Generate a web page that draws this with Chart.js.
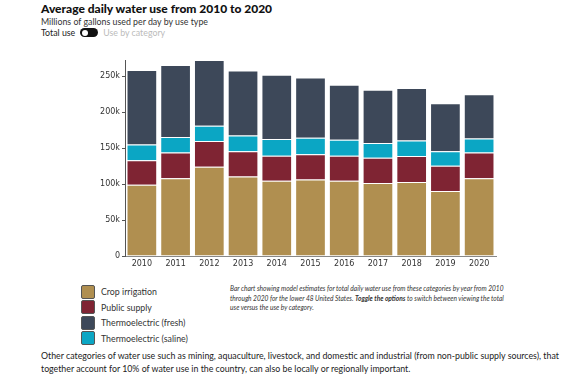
<!DOCTYPE html>
<html>
<head>
<meta charset="utf-8">
<script src="https://cdn.jsdelivr.net/npm/chart.js@4"></script>
<style>
    body { margin: 0; width: 565px; height: 385px; background: #fff; font-family: Lato, "Open Sans", sans-serif; color: #222; position: relative; overflow: hidden; }
    .title { position: absolute; left: 41px; top: 1px; font-size: 12px; font-weight: 900; color: #111; }
    .subtitle { position: absolute; left: 41px; top: 16px; font-size: 8.8px; color: #333; }
    .toggle-row { position: absolute; left: 41px; top: 27px; font-size: 8.8px; display: flex; align-items: center; }
    .pill { width: 18px; height: 9px; border-radius: 5px; background: #111; margin: 0 5px 0 5px; position: relative; }
    .pill::after { content: ""; position: absolute; left: 1.5px; top: 1.5px; width: 6px; height: 6px; border-radius: 3px; background: #fff; }
    .off { color: #bbb; }
    #chart-box { position: absolute; left: 0; top: 50px; width: 565px; height: 222px; }
    .legend { position: absolute; left: 81px; top: 284px; font-size: 8.8px; color: #333; }
    .legend-item { display: flex; align-items: center; height: 15.5px; }
    .swatch { width: 12px; height: 12px; border: 1px solid #555; border-radius: 2px; margin-right: 6px; }
    .note { position: absolute; left: 230px; top: 284px; width: 284px; font-size: 6.6px; font-style: italic; line-height: 9.6px; color: #333; }
    .footer { position: absolute; left: 41px; top: 349px; width: 525px; font-size: 8.8px; line-height: 13px; color: #222; }
</style>
</head>
<body>
<div class="title">Average daily water use from 2010 to 2020</div>
<div class="subtitle">Millions of gallons used per day by use type</div>
<div class="toggle-row"><span>Total use</span><span class="pill"></span><span class="off">Use by category</span></div>
<div id="chart-box"><canvas id="chart"></canvas></div>
<div class="legend" id="legend"></div>
<div class="note">Bar chart showing model estimates for total daily water use from these categories by year from 2010 through 2020 for the lower 48 United States. <b>Toggle the options</b> to switch between viewing the total use versus the use by category.</div>
<div class="footer">Other categories of water use such as mining, aquaculture, livestock, and domestic and industrial (from non-public supply sources), that together account for 10% of water use in the country, can also be locally or regionally important.</div>
<script>
const years = ['2010', '2011', '2012', '2013', '2014', '2015', '2016', '2017', '2018', '2019', '2020'];
const cropIrrigation = [99000, 108000, 124000, 110500, 104500, 106500, 104500, 101500, 103000, 90500, 108000];
const publicSupply = [34000, 36000, 36000, 35000, 35000, 35000, 35000, 35000, 36000, 35000, 36000];
const thermoSaline = [22000, 21500, 21000, 22000, 23000, 23000, 22000, 20500, 21500, 20000, 19500];
const thermoFresh = [103500, 100000, 91500, 90500, 89500, 83500, 76500, 74000, 73000, 67000, 61500];
const yTicks = [0, 50000, 100000, 150000, 200000, 250000];

// legend order differs from stack order
const legendItems = [
    ['Crop irrigation', '#b08f50'],
    ['Public supply', '#7f2433'],
    ['Thermoelectric (fresh)', '#3d4859'],
    ['Thermoelectric (saline)', '#0ba6c4']
];
legendItems.forEach(function (it) {
    document.getElementById('legend').insertAdjacentHTML('beforeend',
        `<div class="legend-item"><span class="swatch" style="background:${it[1]}"></span>${it[0]}</div>`);
});

const totals = years.map((_, i) => cropIrrigation[i] + publicSupply[i] + thermoSaline[i] + thermoFresh[i]);

const ds = (label, data, color) => ({
    label: label,
    data: data,
    backgroundColor: color,
    borderColor: 'rgba(255,255,255,0.35)',
    borderWidth: 1,
    barPercentage: 0.91,
    categoryPercentage: 1
});

const ctx = document.getElementById('chart').getContext('2d');
new Chart(ctx, {
    type: 'bar',
    data: {
        labels: years,
        datasets: [
            ds('Crop irrigation', cropIrrigation, '#b08f50'),
            ds('Public supply', publicSupply, '#7f2433'),
            ds('Thermoelectric (saline)', thermoSaline, '#0ba6c4'),
            ds('Thermoelectric (fresh)', thermoFresh, '#3d4859')
        ]
    },
    options: {
        responsive: true,
        maintainAspectRatio: false,
        animation: false,
        layout: { padding: { left: 80, right: 69, top: 10, bottom: 0 } },
        plugins: { legend: { display: false }, tooltip: { enabled: false } },
        scales: {
            x: {
                stacked: true,
                grid: { display: false, drawTicks: false },
                border: { color: '#888', width: 1 },
                ticks: { color: '#333', font: { family: 'DejaVu Sans', size: 8 }, padding: 3 },
                afterFit: s => { s.height = 16; }
            },
            y: {
                stacked: true,
                min: 0,
                max: Math.max(...totals),
                grid: { drawOnChartArea: false, drawTicks: true, tickLength: 3, color: '#555' },
                border: { color: '#555', width: 1 },
                afterBuildTicks: s => { s.ticks = yTicks.map(v => ({ value: v })); },
                ticks: {
                    color: '#333',
                    font: { family: 'DejaVu Sans', size: 8 },
                    padding: 2,
                    callback: v => v === 0 ? '0' : (v / 1000) + 'k'
                },
                afterFit: s => { s.width = 45; }
            }
        }
    }
});
</script>
</body>
</html>
